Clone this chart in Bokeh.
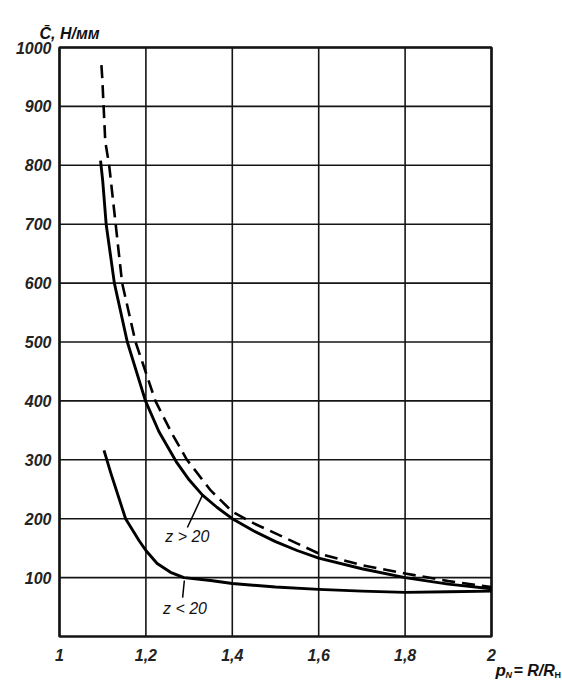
from bokeh.plotting import figure
from bokeh.models import Range1d
from bokeh.core.properties import value
from bokeh.embed import file_html
from bokeh.resources import INLINE

# ---- data ----
x_ticks = [1.0, 1.2, 1.4, 1.6, 1.8, 2.0]
x_tick_labels = ["1", "1,2", "1,4", "1,6", "1,8", "2"]
y_ticks = [100, 200, 300, 400, 500, 600, 700, 800, 900, 1000]
y_tick_labels = ["100", "200", "300", "400", "500", "600", "700", "800", "900", "1000"]

# z > 20, solid
solid_x = [1.095, 1.100, 1.108, 1.127, 1.157, 1.199, 1.230, 1.270, 1.300, 1.331,
           1.365, 1.400, 1.450, 1.500, 1.550, 1.600, 1.700, 1.800, 1.900, 2.000]
solid_y = [808, 774, 700, 600, 500, 400, 348, 297, 266, 240,
           219, 200, 179, 161, 146, 133, 115, 100, 89, 81]

# z > 20, dashed
dash_x = [1.097, 1.099, 1.106, 1.115, 1.130, 1.145, 1.176, 1.222, 1.260, 1.295,
          1.350, 1.400, 1.450, 1.500, 1.600, 1.700, 1.800, 1.900, 2.000]
dash_y = [970, 948, 840, 800, 700, 600, 500, 400, 345, 300,
          248, 212, 192, 175, 141, 121, 107, 94, 84]

# z < 20
low_x = [1.103, 1.119, 1.153, 1.184, 1.200, 1.226, 1.257, 1.288, 1.350, 1.400,
         1.500, 1.600, 1.700, 1.800, 1.900, 2.000]
low_y = [316, 277, 200, 163, 146, 124, 109, 100, 95, 90, 84, 80, 77, 75, 76, 77]

# ---- layout (pixel geometry of the chart box inside the 562x684 canvas) ----
W, H = 562, 684
BOX_L, BOX_R, BOX_T, BOX_B = 59, 491, 47, 636
X0, X1, Y0, Y1 = 1.0, 2.0, 0.0, 1000.0
sx = (BOX_R - BOX_L) / (X1 - X0)
sy = (BOX_B - BOX_T) / (Y1 - Y0)

def dx(px):
    return X0 + (px - BOX_L) / sx

def dy(py):
    return Y0 + (BOX_B - py) / sy

p = figure(width=W, height=H,
           x_range=Range1d(dx(0), dx(W)), y_range=Range1d(dy(H), dy(0)),
           output_backend="svg", toolbar_location=None,
           x_axis_location=None, y_axis_location=None, min_border=0)
p.background_fill_color = "white"
p.border_fill_color = "white"
p.outline_line_color = None
p.xgrid.visible = False
p.ygrid.visible = False

FONT = value("Liberation Sans")
INK = "#151515"

# grid
p.segment(x0=x_ticks, y0=[Y0] * len(x_ticks), x1=x_ticks, y1=[Y1] * len(x_ticks),
          line_color=INK, line_width=1.6)
p.segment(x0=[X0] * len(y_ticks), y0=y_ticks, x1=[X1] * len(y_ticks), y1=y_ticks,
          line_color=INK, line_width=1.6)
# chart box
p.quad(left=[X0], right=[X1], bottom=[Y0], top=[Y1], fill_color=None,
       line_color=INK, line_width=2.6)

# tick labels
p.text(x=x_ticks, y=[dy(654)] * len(x_ticks), text=x_tick_labels,
       text_font=FONT, text_font_style="bold italic", text_font_size="16px",
       text_color="#222222", text_align="center", text_baseline="middle")
p.text(x=[dx(51)] * len(y_ticks), y=y_ticks, text=y_tick_labels,
       text_font=FONT, text_font_style="bold italic", text_font_size="16px",
       text_color="#222222", text_align="right", text_baseline="middle")

# curves
p.line(solid_x, solid_y, line_color="black", line_width=2.9, line_join="round")
p.line(dash_x, dash_y, line_color="black", line_width=2.6, line_dash="13 7")
p.line(low_x, low_y, line_color="black", line_width=2.9, line_join="round")

# leader lines for curve labels
lead_hi_x = [1.331, 1.296]
lead_hi_y = [240, 185]
lead_lo_x = [1.289, 1.285]
lead_lo_y = [95, 66]
p.line(lead_hi_x, lead_hi_y, line_color="black", line_width=1.5)
p.line(lead_lo_x, lead_lo_y, line_color="black", line_width=1.5)

def txt(x, y, text, size, style, align="center", baseline="middle"):
    p.text(x=[x], y=[y], text=[text], text_font=FONT, text_font_style=style,
           text_font_size=size, text_color="#111111",
           text_align=align, text_baseline=baseline)

txt(1.296, 170, "z > 20", "16px", "italic")
txt(1.2905, 48, "z < 20", "16px", "italic")

# y-axis title
txt(dx(39), dy(33), "C\u0304, Н/мм", "16px", "bold italic", "left", "alphabetic")

# x-axis title: p_N = R/R_Н
txt(dx(495), dy(670), "p", "17px", "bold italic", "left", "alphabetic")
txt(dx(505), dy(674), "N", "9px", "bold italic", "left", "alphabetic")
txt(dx(513), dy(670), "= R/R", "16px", "bold italic", "left", "alphabetic")
txt(dx(554), dy(674), "Н", "9px", "bold", "left", "alphabetic")

open("out.html", "w").write(file_html(p, INLINE))
